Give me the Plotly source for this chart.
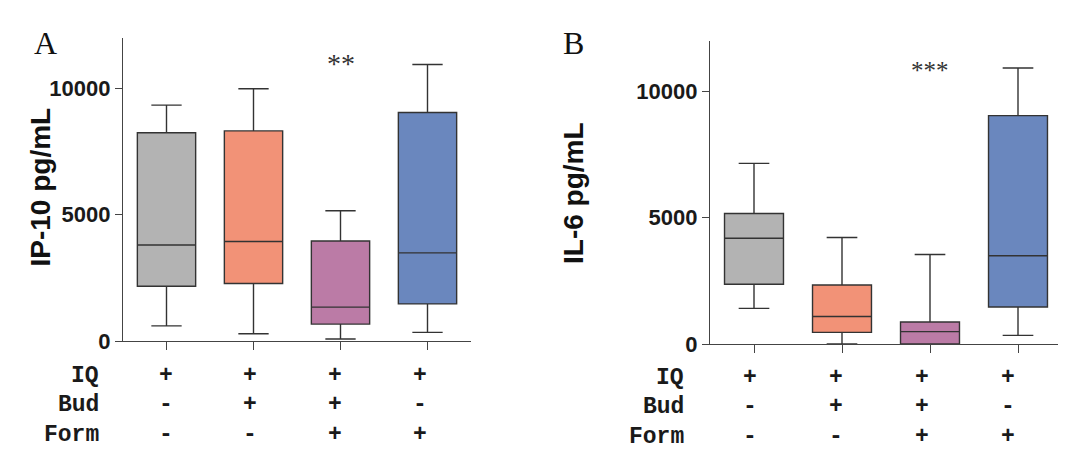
import plotly.graph_objects as go

# ---------------- data ----------------
groups = ["IQ", "IQ+Bud", "IQ+Bud+Form", "IQ+Form"]
colors = ["#b3b3b3", "#f29277", "#bb7ba6", "#6a87be"]

# Panel A: IP-10 pg/mL
a_low = [600, 290, 80, 340]
a_q1 = [2170, 2280, 670, 1470]
a_med = [3800, 3940, 1340, 3490]
a_q3 = [8250, 8320, 3960, 9050]
a_high = [9340, 9990, 5160, 10950]

# Panel B: IL-6 pg/mL
b_low = [1410, 0, 0, 340]
b_q1 = [2360, 460, 0, 1460]
b_med = [4180, 1090, 490, 3490]
b_q3 = [5160, 2330, 870, 9030]
b_high = [7140, 4210, 3540, 10910]

row_labels = ["IQ", "Bud", "Form"]
signs = [["+", "+", "+", "+"],
         ["-", "+", "+", "-"],
         ["-", "-", "+", "+"]]

y_ticks = [0, 5000, 10000]
y_ticktext = ["0", "5000", "10000"]
y_max = 12000
sig_a = ("**", 2, 11000)
sig_b = ("***", 2, 10800)

# ---------------- figure ----------------
OFF = 8  # page body margin
W, H = 1066 - OFF, 450 - OFF


def px(x):
    return (x - OFF) / W


def py(y):
    return 1 - (y - OFF) / H


fig = go.Figure()


def add_boxes(low, q1, med, q3, high, xa, ya):
    for i in range(len(groups)):
        fig.add_trace(go.Box(
            x=[i], q1=[q1[i]], median=[med[i]], q3=[q3[i]],
            lowerfence=[low[i]], upperfence=[high[i]],
            width=0.67, whiskerwidth=0.52,
            fillcolor=colors[i], line=dict(color="#333333", width=1.4),
            boxpoints=False, showlegend=False, hoverinfo="skip",
            xaxis=xa, yaxis=ya, name=groups[i]))


add_boxes(a_low, a_q1, a_med, a_q3, a_high, "x", "y")
add_boxes(b_low, b_q1, b_med, b_q3, b_high, "x2", "y2")

tickfont = dict(family="Arial, Liberation Sans, sans-serif", size=22, color="#1a1a1a", weight="bold")
axcolor = "#444444"
xcommon = dict(range=[-0.5, 3.5], tickvals=[0, 1, 2, 3], showticklabels=False,
               ticks="outside", ticklen=8, tickcolor=axcolor, tickwidth=1.3,
               showline=True, linecolor=axcolor, linewidth=1.3,
               showgrid=False, zeroline=False, fixedrange=True)
ycommon = dict(range=[0, y_max], tickvals=y_ticks, ticktext=y_ticktext, ticks="outside", ticklen=7,
               tickcolor=axcolor, tickwidth=1.3, showline=True, linecolor=axcolor,
               linewidth=1.3, showgrid=False, zeroline=False, tickfont=tickfont,
               fixedrange=True)

fig.update_layout(
    width=W, height=H, margin=dict(l=0, r=0, t=0, b=0, autoexpand=False),
    paper_bgcolor="white", plot_bgcolor="white",
    xaxis=dict(domain=[px(123), px(471)], anchor="y", **xcommon),
    yaxis=dict(domain=[py(341), py(38)], anchor="x", **ycommon),
    xaxis2=dict(domain=[px(710), px(1062)], anchor="y2", **xcommon),
    yaxis2=dict(domain=[py(344), py(40.5)], anchor="x2", **ycommon),
)

ann = []
# panel letters
letterfont = dict(family="Liberation Serif, Times New Roman, serif", size=32, color="#111")
ann.append(dict(text="A", x=px(32), y=py(23), xref="paper", yref="paper",
                showarrow=False, font=letterfont))
ann.append(dict(text="B", x=px(573), y=py(23), xref="paper", yref="paper",
                showarrow=False, font=letterfont))
# y titles
titlefont = dict(family="Arial, Liberation Sans, sans-serif", size=28, color="#111", weight="bold")
ann.append(dict(text="IP-10 pg/mL", x=px(22), y=py(187), xref="paper", yref="paper",
                textangle=-90, showarrow=False, font=titlefont))
ann.append(dict(text="IL-6 pg/mL", x=px(573), y=py(193), xref="paper", yref="paper",
                textangle=-90, showarrow=False, font=titlefont))
# significance
ann.append(dict(text=sig_a[0], x=sig_a[1], y=sig_a[2], xref="x", yref="y", showarrow=False,
                font=dict(family="Liberation Serif, Times New Roman, serif", size=28, color="#333")))
ann.append(dict(text=sig_b[0], x=sig_b[1], y=sig_b[2], xref="x2", yref="y2", showarrow=False,
                font=dict(family="Liberation Serif, Times New Roman, serif", size=25, color="#333")))

# treatment table
monofont = dict(family="Liberation Mono, Courier New, monospace", size=23, color="#1a1a1a", weight="bold")
rows_a = [376, 405, 435]
rows_b = [378, 407, 437]
for r, lab in enumerate(row_labels):
    ann.append(dict(text=lab, x=px(101), y=py(rows_a[r]), xref="paper", yref="paper",
                    xanchor="right", yanchor="middle", showarrow=False, font=monofont))
    ann.append(dict(text=lab, x=px(686), y=py(rows_b[r]), xref="paper", yref="paper",
                    xanchor="right", yanchor="middle", showarrow=False, font=monofont))
    for i in range(len(groups)):
        ann.append(dict(text=signs[r][i], x=i * 0.975 - 0.01, y=py(rows_a[r]), xref="x", yref="paper",
                        yanchor="middle", showarrow=False, font=monofont))
        ann.append(dict(text=signs[r][i], x=i * 0.975 - 0.04, y=py(rows_b[r]), xref="x2", yref="paper",
                        yanchor="middle", showarrow=False, font=monofont))

fig.update_layout(annotations=ann)
fig.write_html("out.html")
